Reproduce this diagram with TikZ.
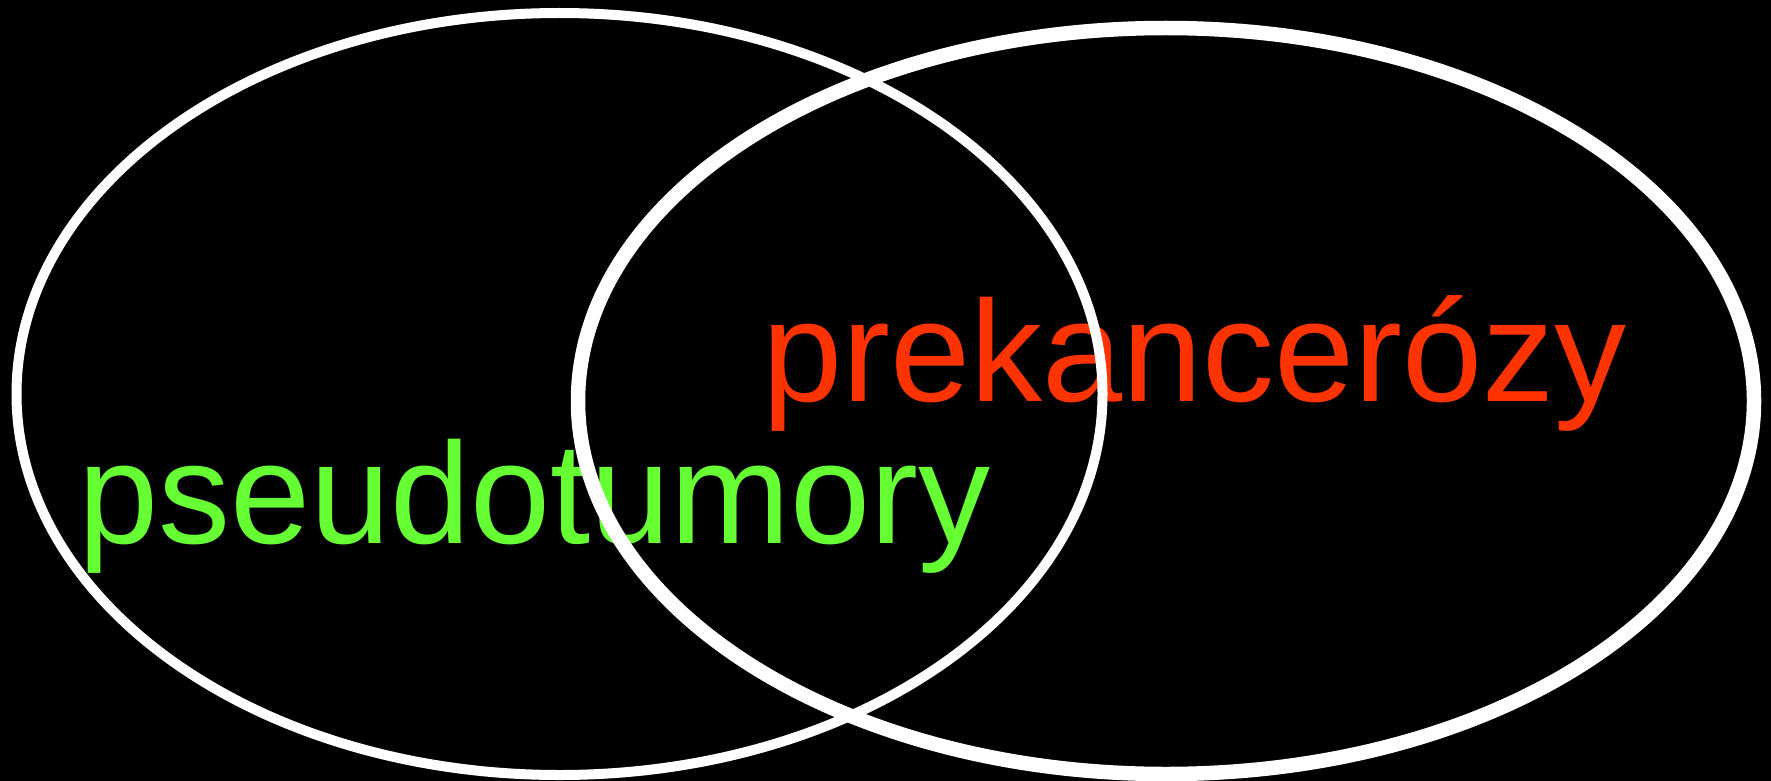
\documentclass[tikz,border=0pt]{standalone}
\usepackage{fontspec}
\setmainfont{Liberation Sans}
\definecolor{tgreen}{HTML}{66FF33}
\definecolor{tred}{HTML}{FF3300}
\begin{document}
\begin{tikzpicture}[x=1pt,y=-1pt,
  lbl/.style={anchor=base west,inner sep=0pt,font=\fontsize{144}{144}\selectfont},
  ring/.style={draw=white}]
\fill[black] (0,0) rectangle (1771,781);
\useasboundingbox (0,0) rectangle (1771,781);
\node[lbl,text=tgreen] (pseudo) at (78,543) {pseudotumory};
\node[lbl,text=tred] (prek) at (762,401) {prekancerózy};
\draw[ring,line width=10pt] (559.5,394) ellipse [x radius=543, y radius=381];
\draw[ring,line width=14.5pt] (1166,401) ellipse [x radius=588, y radius=373];
\end{tikzpicture}
\end{document}
